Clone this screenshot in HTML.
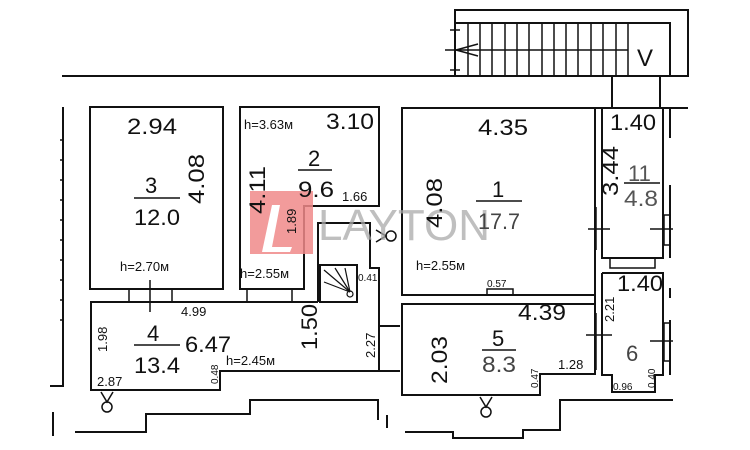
<!DOCTYPE html>
<html><head><meta charset="utf-8"><style>
html,body{margin:0;padding:0;background:#fff;width:750px;height:450px;overflow:hidden}
svg{display:block}
text{font-family:"Liberation Sans",sans-serif;fill:#111}
.big{font-size:22px}
</style></head><body>
<svg width="750" height="450" viewBox="0 0 750 450" xmlns="http://www.w3.org/2000/svg">
<g fill="none" stroke="#111" stroke-width="2">
<rect x="455" y="10" width="233" height="66"/>
<polyline points="455,23 670,23 670,76"/>
<line x1="62" y1="76" x2="688" y2="76"/>
<line x1="445" y1="50" x2="628" y2="50" stroke-width="1.5"/>
<g stroke-width="1.5">
<line x1="468" y1="23" x2="468" y2="76"/><line x1="480" y1="23" x2="480" y2="76"/><line x1="492" y1="23" x2="492" y2="76"/><line x1="505" y1="23" x2="505" y2="76"/><line x1="517" y1="23" x2="517" y2="76"/><line x1="529" y1="23" x2="529" y2="76"/><line x1="542" y1="23" x2="542" y2="76"/><line x1="554" y1="23" x2="554" y2="76"/><line x1="566" y1="23" x2="566" y2="76"/><line x1="578" y1="23" x2="578" y2="76"/><line x1="591" y1="23" x2="591" y2="76"/><line x1="603" y1="23" x2="603" y2="76"/><line x1="616" y1="23" x2="616" y2="76"/><line x1="628" y1="23" x2="628" y2="76"/>
<line x1="450" y1="30" x2="460" y2="30"/><line x1="450" y1="70" x2="460" y2="70"/>
<polyline points="478,44 456,50 478,56"/>
</g>
<polyline points="612,76 612,108 660,108 660,76"/>
<line x1="595" y1="108" x2="688" y2="108"/>
<polyline points="63,107 63,386 50,386"/>
<g stroke-width="1.5"><line x1="60" y1="140" x2="63" y2="140"/><line x1="60" y1="160" x2="63" y2="160"/><line x1="60" y1="180" x2="63" y2="180"/><line x1="60" y1="200" x2="63" y2="200"/><line x1="60" y1="220" x2="63" y2="220"/><line x1="60" y1="240" x2="63" y2="240"/><line x1="60" y1="260" x2="63" y2="260"/><line x1="60" y1="280" x2="63" y2="280"/><line x1="60" y1="300" x2="63" y2="300"/><line x1="60" y1="320" x2="63" y2="320"/></g>
<line x1="53" y1="412" x2="53" y2="436"/>
<rect x="90" y="107" width="133" height="182"/>
<polygon points="240,107 379,107 379,206 304,206 304,289 240,289"/>
<g stroke-width="1.5">
<line x1="129" y1="289" x2="129" y2="302"/><line x1="172" y1="289" x2="172" y2="302"/><line x1="150" y1="280" x2="150" y2="312"/>
<line x1="247" y1="289" x2="247" y2="302"/><line x1="292" y1="289" x2="292" y2="302"/>
</g>
<polyline points="318,302 91,302 91,390 220,390 220,371 400,371"/>
<polyline points="318,302 318,223 370,223 370,268 379,268 379,371"/>
<rect x="320" y="265" width="37" height="37"/>
<g stroke-width="1.2"><line x1="324" y1="270" x2="350" y2="292"/><line x1="335" y1="268" x2="350" y2="292"/><line x1="345" y1="268" x2="350" y2="292"/><line x1="324" y1="282" x2="350" y2="292"/><circle cx="350" cy="294" r="3"/></g>
<line x1="379" y1="326" x2="400" y2="326"/>
<rect x="402" y="108" width="193" height="187"/>
<line x1="595" y1="108" x2="595" y2="375"/>
<rect x="487" y="289" width="26" height="6" stroke-width="1.5"/>
<polygon points="402,304 595,304 595,374 540,374 540,395 402,395"/>
<polyline points="602,108 602,258 663,258 663,108"/>
<line x1="670" y1="108" x2="670" y2="138"/><line x1="670" y1="185" x2="670" y2="258"/>
<rect x="610" y="258" width="45" height="10" stroke-width="1.5"/>
<polyline points="602,273 602,375 612,375 612,392 655,392 655,375 663,375 663,273 602,273"/>
<line x1="670" y1="288" x2="670" y2="298"/><line x1="670" y1="320" x2="670" y2="375"/>
<g stroke-width="1.5">
<line x1="588" y1="229" x2="610" y2="229"/><line x1="650" y1="229" x2="673" y2="229"/><rect x="664" y="215" width="6" height="30"/>
<line x1="586" y1="335" x2="612" y2="335"/><line x1="650" y1="341" x2="673" y2="341"/><rect x="664" y="323" width="6" height="38"/>
<line x1="596" y1="207" x2="596" y2="250"/><line x1="596" y1="313" x2="596" y2="370"/>
</g>
<polyline points="75,432 146,432 146,414 250,414 250,400 378,400 378,420"/>
<line x1="387" y1="415" x2="387" y2="428"/>
<polyline points="405,432 453,432 453,438 523,438 523,430 560,430 560,400 673,400"/>
<g stroke-width="1.5">
<circle cx="107" cy="407" r="5"/><polyline points="101,392 107,402 113,392"/>
<circle cx="486" cy="412" r="5"/><polyline points="480,397 486,407 492,397"/>
<circle cx="391" cy="236" r="5"/><polyline points="376,230 386,236 376,242"/>
</g>
<g stroke-width="1.5">
<line x1="134" y1="198" x2="180" y2="198"/><line x1="298" y1="170" x2="332" y2="170"/>
<line x1="476" y1="201" x2="522" y2="201"/><line x1="624" y1="183" x2="660" y2="183"/>
<line x1="134" y1="345" x2="180" y2="345"/><line x1="482" y1="350" x2="516" y2="350"/>
</g>
</g>
<rect x="250" y="191" width="63" height="63" fill="#f08a8a" opacity="0.85"/>
<polygon points="272,205 280,205 272,247 292,247 290,252 262,252" fill="#fff"/>
<text x="318" y="240" font-size="44" style="fill:#aaa" opacity="0.75">LAYTON</text>
<g class="big">
<text x="127" y="134" textLength="50" lengthAdjust="spacingAndGlyphs">2.94</text>
<text x="145" y="193">3</text><text x="134" y="225" textLength="46" lengthAdjust="spacingAndGlyphs">12.0</text>
<text x="326" y="129" textLength="48" lengthAdjust="spacingAndGlyphs">3.10</text>
<text x="308" y="166">2</text><text x="298" y="197" textLength="36" lengthAdjust="spacingAndGlyphs">9.6</text>
<text x="478" y="135" textLength="50" lengthAdjust="spacingAndGlyphs">4.35</text>
<text x="492" y="197">1</text><text x="478" y="229" style="fill:#444" textLength="42" lengthAdjust="spacingAndGlyphs">17.7</text>
<text x="610" y="130" textLength="46" lengthAdjust="spacingAndGlyphs">1.40</text>
<text x="628" y="181" style="fill:#555">11</text><text x="624" y="206" style="fill:#555" textLength="34" lengthAdjust="spacingAndGlyphs">4.8</text>
<text x="617" y="291" textLength="46" lengthAdjust="spacingAndGlyphs">1.40</text>
<text x="518" y="320" textLength="48" lengthAdjust="spacingAndGlyphs">4.39</text>
<text x="492" y="346">5</text><text x="482" y="372" style="fill:#444" textLength="34" lengthAdjust="spacingAndGlyphs">8.3</text>
<text x="626" y="361" style="fill:#444">6</text>
<text x="147" y="341">4</text><text x="134" y="373" textLength="46" lengthAdjust="spacingAndGlyphs">13.4</text>
<text x="185" y="352" textLength="46" lengthAdjust="spacingAndGlyphs">6.47</text>
</g>
<g class="big">
<text transform="translate(204,204) rotate(-90)" textLength="50" lengthAdjust="spacingAndGlyphs">4.08</text>
<text transform="translate(265,214) rotate(-90)" textLength="48" lengthAdjust="spacingAndGlyphs">4.11</text>
<text transform="translate(442,228) rotate(-90)" textLength="50" lengthAdjust="spacingAndGlyphs">4.08</text>
<text transform="translate(618,196) rotate(-90)" textLength="50" lengthAdjust="spacingAndGlyphs">3.44</text>
<text transform="translate(317,350) rotate(-90)" textLength="46" lengthAdjust="spacingAndGlyphs">1.50</text>
<text transform="translate(447,384) rotate(-90)" textLength="48" lengthAdjust="spacingAndGlyphs">2.03</text>
</g>
<g font-size="13">
<text x="244" y="129">h=3.63м</text>
<text x="120" y="271">h=2.70м</text>
<text x="240" y="278">h=2.55м</text>
<text x="416" y="270">h=2.55м</text>
<text x="226" y="365">h=2.45м</text>
<text x="342" y="201">1.66</text>
<text x="181" y="316">4.99</text>
<text x="97" y="386">2.87</text>
<text x="558" y="369">1.28</text>
<text transform="translate(296,234) rotate(-90)">1.89</text>
<text transform="translate(107,352) rotate(-90)">1.98</text>
<text transform="translate(375,358) rotate(-90)">2.27</text>
<text transform="translate(614,322) rotate(-90)">2.21</text>
</g>
<g font-size="10" style="fill:#444">
<text x="358" y="281">0.41</text>
<text x="487" y="287">0.57</text>
<text x="613" y="390">0.96</text>
<text transform="translate(218,384) rotate(-90)">0.48</text>
<text transform="translate(538,388) rotate(-90)">0.47</text>
<text transform="translate(655,388) rotate(-90)">0.40</text>
</g>
<text x="637" y="66" font-size="24">V</text>
</svg>
</body></html>
